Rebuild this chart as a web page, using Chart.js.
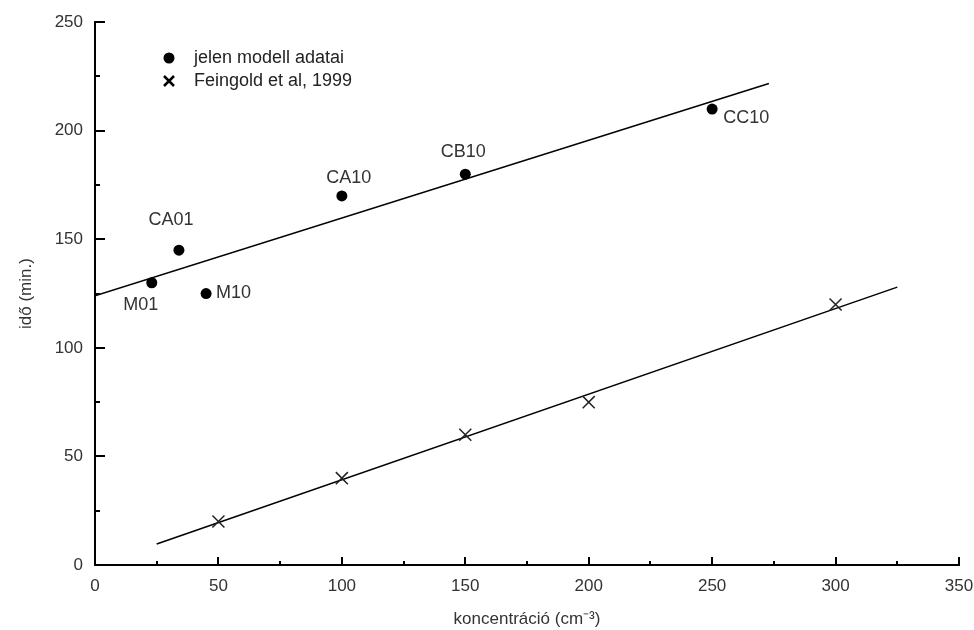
<!DOCTYPE html>
<html>
<head>
<meta charset="utf-8">
<script src="https://cdn.jsdelivr.net/npm/chart.js@4.4.0/dist/chart.umd.min.js"></script>
<style>
  html, body { margin: 0; padding: 0; background: #fff; }
  #wrap { width: 974px; height: 630px; }
</style>
</head>
<body>
<div id="wrap"><canvas id="idoChart"></canvas></div>
<script>
// model runs (circles)
const modelNames = ['M01', 'CA01', 'M10', 'CA10', 'CB10', 'CC10'];
const modelConc = [23, 34, 45, 100, 150, 250];
const modelTime = [130, 145, 125, 170, 180, 210];

// Feingold et al, 1999 (crosses)
const feinConc = [50, 100, 150, 200, 300];
const feinTime = [20, 40, 60, 75, 120];

// fitted lines, end points
const modelFitX = [0, 273];
const modelFitY = [124, 221.8];
const feinFitX = [25, 325];
const feinFitY = [9.7, 128];

const xTicks = [0, 50, 100, 150, 200, 250, 300, 350];
const yTicks = [0, 50, 100, 150, 200, 250];

const seriesNames = ['jelen modell adatai', 'Feingold et al, 1999'];

// label offsets (px) relative to the point: [dx, dy, align]
const labelPos = [[-11, 22, 'center'], [-8, -30, 'center'], [10, -1, 'left'], [7, -18, 'center'], [-2, -22, 'center'], [11, 9, 'left']];

const toPts = (xs, ys) => xs.map((x, i) => ({ x: x, y: ys[i] }));
const FONT = '"Liberation Sans", Arial, sans-serif';

// inward tick marks, majors every 50 and minors in between
const tickMarks = {
    id: 'tickMarks',
    afterDraw(chart) {
        const ctx = chart.ctx;
        const xs = chart.scales.x, ys = chart.scales.y;
        const area = chart.chartArea;
        ctx.save();
        ctx.strokeStyle = '#000';
        ctx.lineWidth = 2;
        for (let v = 25; v <= 350; v += 25) {
            const px = Math.round(xs.getPixelForValue(v));
            const len = v % 50 === 0 ? 8 : 4;
            ctx.beginPath();
            ctx.moveTo(px, area.bottom);
            ctx.lineTo(px, area.bottom - len);
            ctx.stroke();
        }
        for (let v = 25; v <= 250; v += 25) {
            const py = Math.round(ys.getPixelForValue(v));
            const len = v % 50 === 0 ? 10 : 5;
            ctx.beginPath();
            ctx.moveTo(area.left, py);
            ctx.lineTo(area.left + len, py);
            ctx.stroke();
        }
        ctx.restore();
    }
};

// run names next to the circles
const pointNames = {
    id: 'pointNames',
    afterDatasetsDraw(chart) {
        const ctx = chart.ctx;
        const meta = chart.getDatasetMeta(0);
        ctx.save();
        ctx.font = '18px ' + FONT;
        ctx.fillStyle = '#333';
        ctx.textBaseline = 'middle';
        meta.data.forEach((pt, i) => {
            const p = labelPos[i];
            ctx.textAlign = p[2];
            ctx.fillText(modelNames[i], pt.x + p[0], pt.y + p[1]);
        });
        ctx.restore();
    }
};

// legend inside the plot, top left
const innerLegend = {
    id: 'innerLegend',
    afterDraw(chart) {
        const ctx = chart.ctx;
        ctx.save();
        ctx.font = '18px ' + FONT;
        ctx.textBaseline = 'middle';
        ctx.textAlign = 'left';
        ctx.beginPath();
        ctx.arc(169, 58, 5.5, 0, Math.PI * 2);
        ctx.fillStyle = '#000';
        ctx.fill();
        ctx.strokeStyle = '#000';
        ctx.lineWidth = 2.5;
        ctx.beginPath();
        ctx.moveTo(164, 76); ctx.lineTo(174, 86);
        ctx.moveTo(174, 76); ctx.lineTo(164, 86);
        ctx.stroke();
        ctx.fillStyle = '#222';
        ctx.fillText(seriesNames[0], 194, 58);
        ctx.fillText(seriesNames[1], 194, 81);
        ctx.restore();
    }
};

new Chart(document.getElementById('idoChart'), {
    type: 'scatter',
    data: {
        datasets: [
            {
                label: seriesNames[0],
                data: toPts(modelConc, modelTime),
                pointStyle: 'circle',
                pointRadius: 5.5,
                backgroundColor: '#000',
                borderColor: '#000',
                borderWidth: 0
            },
            {
                label: seriesNames[1],
                data: toPts(feinConc, feinTime),
                pointStyle: 'crossRot',
                pointRadius: 8.5,
                borderColor: '#222',
                borderWidth: 1.5
            },
            {
                label: 'fit1',
                data: toPts(modelFitX, modelFitY),
                showLine: true,
                pointRadius: 0,
                borderColor: '#000',
                borderWidth: 1.5
            },
            {
                label: 'fit2',
                data: toPts(feinFitX, feinFitY),
                showLine: true,
                pointRadius: 0,
                borderColor: '#000',
                borderWidth: 1.5
            }
        ]
    },
    options: {
        responsive: true,
        maintainAspectRatio: false,
        animation: false,
        layout: {
            padding: { left: 0, top: 22, right: 15, bottom: 0 }
        },
        scales: {
            x: {
                type: 'linear',
                min: 0,
                max: 350,
                afterBuildTicks: (s) => { s.ticks = xTicks.map(v => ({ value: v })); },
                afterFit: (s) => { s.height = 65; },
                grid: { display: false, drawTicks: true, tickLength: 11 },
                border: { display: true, color: '#000', width: 2 },
                ticks: {
                    color: '#333',
                    font: { family: FONT, size: 17 },
                    padding: 0,
                    maxRotation: 0
                },
                title: {
                    display: true,
                    text: 'koncentráció (cm⁻³)',
                    color: '#333',
                    font: { family: FONT, size: 17 },
                    padding: { top: 4, bottom: 0 }
                }
            },
            y: {
                type: 'linear',
                min: 0,
                max: 250,
                afterBuildTicks: (s) => { s.ticks = yTicks.map(v => ({ value: v })); },
                afterFit: (s) => { s.width = 95; },
                grid: { display: false, drawTicks: false },
                border: { display: true, color: '#000', width: 2 },
                ticks: {
                    color: '#333',
                    font: { family: FONT, size: 17 },
                    padding: 12
                },
                title: {
                    display: true,
                    text: 'idő (min.)',
                    color: '#333',
                    font: { family: FONT, size: 17 },
                    padding: { top: 16, bottom: 0 }
                }
            }
        },
        plugins: {
            legend: { display: false },
            tooltip: { enabled: false }
        }
    },
    plugins: [tickMarks, pointNames, innerLegend]
});
</script>
</body>
</html>
